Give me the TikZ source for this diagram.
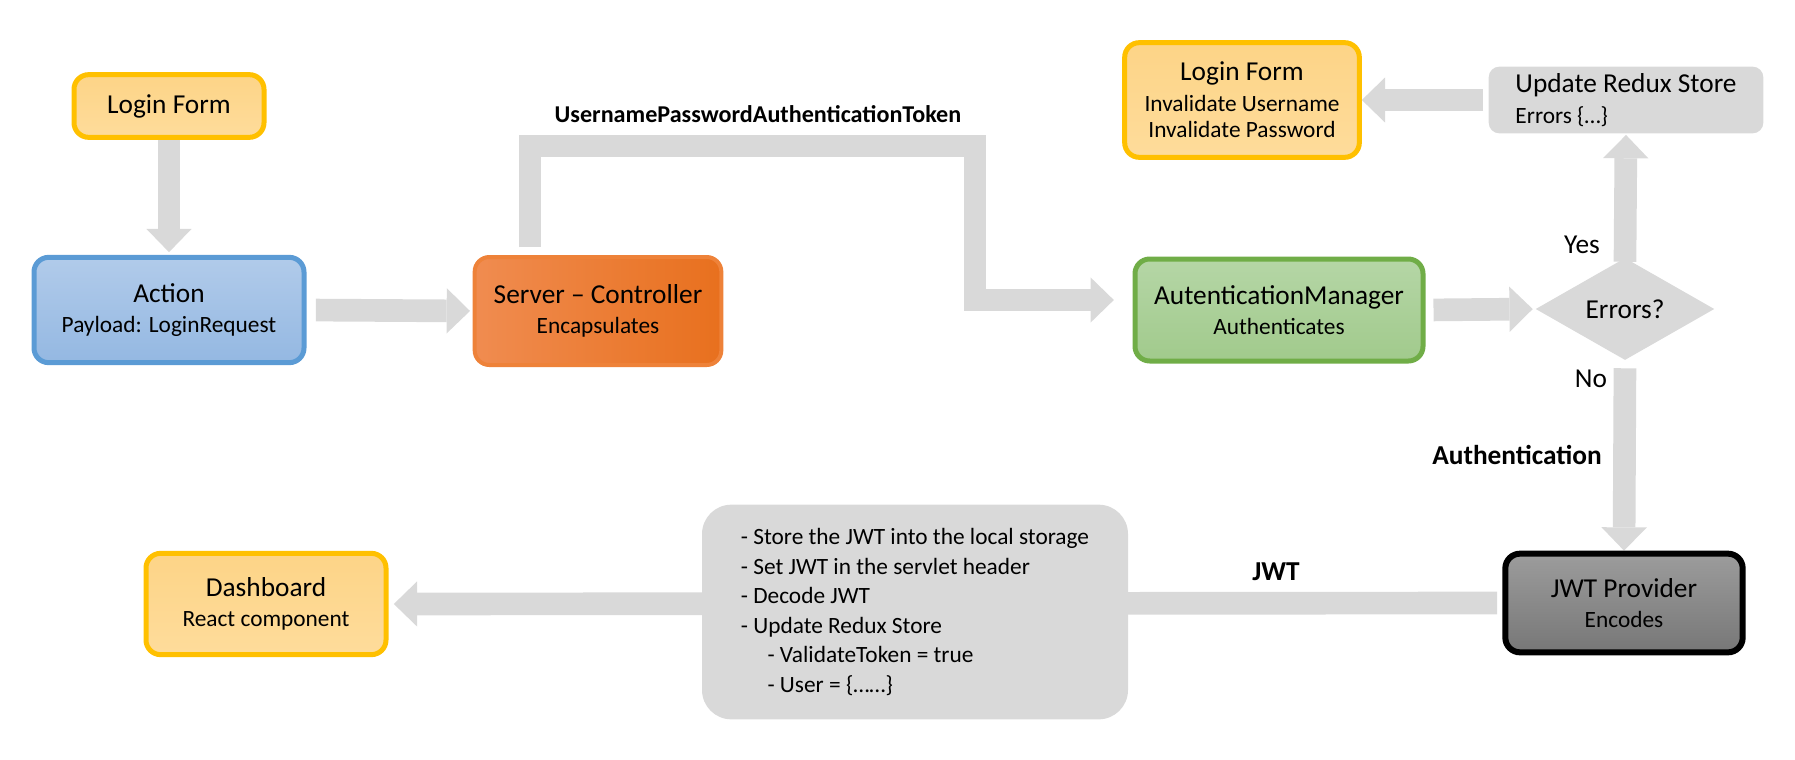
\documentclass[tikz,border=0pt]{standalone}
\usepackage{fontspec}
\setmainfont{Carlito}
\usetikzlibrary{arrows.meta,shapes.geometric,backgrounds}

\definecolor{ylwline}{HTML}{FFC000}
\definecolor{ylwtop}{HTML}{FDD487}
\definecolor{ylwbot}{HTML}{FEDC9B}
\definecolor{blueline}{HTML}{5B9BD5}
\definecolor{bluetop}{HTML}{B1CBEA}
\definecolor{bluebot}{HTML}{94B8E2}
\definecolor{srvline}{HTML}{EE8239}
\definecolor{srvleft}{HTML}{F08C50}
\definecolor{srvright}{HTML}{E8701E}
\definecolor{grnline}{HTML}{70AD47}
\definecolor{grntop}{HTML}{B5D6A6}
\definecolor{grnbot}{HTML}{A1CA8C}
\definecolor{jwttop}{HTML}{9C9C9C}
\definecolor{jwtbot}{HTML}{777777}
\definecolor{arrgray}{HTML}{D9D9D9}

\newcommand{\ttlfont}{\fontsize{20.5}{23}\selectfont}
\newcommand{\subfont}{\fontsize{17.5}{22.2}\selectfont}

\begin{document}
\begin{tikzpicture}[x=0.75pt,y=-0.75pt,>=Stealth,
    box/.style={rounded corners=11pt,line width=3.75pt,align=center,inner sep=0pt,font=\ttlfont},
    yellowbox/.style={box,draw=ylwline,top color=ylwtop,bottom color=ylwbot},
    flow/.style={draw=arrgray,line width=17pt,line join=miter,
        -{Triangle[length=17.5pt,width=34pt,line width=0pt]},shorten <=3pt,shorten >=2pt},
    lbl/.style={font=\bfseries\fontsize{20.5}{23}\selectfont,inner sep=0pt}]
    \useasboundingbox (0,0) rectangle (1795,760);

    \node[yellowbox,minimum width=142.5pt,minimum height=47pt] (login) at (169,106) {Login Form};
    \node[box,draw=blueline,top color=bluetop,bottom color=bluebot,
        minimum width=202.5pt,minimum height=79pt] (action) at (169,310)
        {Action\\{\subfont Payload: LoginRequest}};
    \node[box,draw=srvline,left color=srvleft,right color=srvright,line width=3pt,
        minimum width=185pt,minimum height=81pt] (server) at (598,311)
        {Server -- Controller\\{\subfont Encapsulates}};
    \node[box,draw=grnline,top color=grntop,bottom color=grnbot,
        minimum width=216pt,minimum height=76.5pt] (authmgr) at (1279,310)
        {AutenticationManager\\{\subfont Authenticates}};
    \node[diamond,fill=arrgray,minimum width=134pt,minimum height=76.5pt,
        inner sep=0pt,font=\ttlfont] (errors) at (1625,309) {Errors?};
    \node[fill=arrgray,rounded corners=8pt,minimum width=206pt,minimum height=50pt,
        align=left,inner sep=0pt,font=\ttlfont] (update) at (1626,100)
        {Update Redux Store\\{\subfont Errors \{…\}}};
    \node[yellowbox,minimum width=176pt,minimum height=86pt] (loginerr) at (1242,100)
        {Login Form\\{\subfont Invalidate Username}\\[-3pt]{\subfont Invalidate Password}};
    \node[box,draw=black,top color=jwttop,bottom color=jwtbot,line width=4.5pt,
        minimum width=178pt,minimum height=74pt] (jwtprov) at (1624,603)
        {JWT Provider\\{\subfont Encodes}};
    \node[fill=arrgray,rounded corners=22pt,minimum width=319.5pt,
        minimum height=161pt,align=left,font=\subfont] (store) at (915,612)
        {- Store the JWT into the local storage\\
         - Set JWT in the servlet header\\
         - Decode JWT\\
         - Update Redux Store\\
         \hspace*{20pt}- ValidateToken = true\\
         \hspace*{20pt}- User = \{……\}};
    \node[yellowbox,minimum width=180pt,minimum height=76pt] (dash) at (266,604)
        {Dashboard\\{\subfont React component}};

    \node[lbl,font=\bfseries\fontsize{18.1}{22}\selectfont] (toklbl) at (758,114)
        {UsernamePasswordAuthenticationToken};
    \node[font=\ttlfont,inner sep=0pt] (yes) at (1582,245) {Yes};
    \node[font=\ttlfont,inner sep=0pt] (no) at (1591,379) {No};
    \node[lbl] (authlbl) at (1517,455) {Authentication};
    \node[lbl] (jwtlbl) at (1276,572) {JWT};

    \coordinate (tokup) at (530,146);
    \coordinate (tokdn) at (975,146);

    \begin{scope}[on background layer]
        \draw[flow,shorten <=0pt] (login) -- (action);
        \draw[flow,shorten <=7pt] (action.east) -- (server.west);
        \draw[flow,shorten <=6pt,shorten >=14pt] (server.north -| tokup) -- (tokup) -- (tokdn)
            |- ([yshift=7.5pt]authmgr.west);
        \draw[flow,shorten <=6pt] (authmgr.east) -- (errors.west);
        \draw[flow,shorten <=-3pt,shorten >=1pt] (errors.north) -- (update.south);
        \draw[flow,shorten <=4pt,shorten >=0pt] (update.west) -- (loginerr.east);
        \draw[flow,shorten <=6pt,shorten >=0pt] (errors.south) -- (jwtprov.north);
        \draw[flow,shorten <=4pt,shorten >=4pt] (jwtprov.west) -- (dash.east);
    \end{scope}
\end{tikzpicture}
\end{document}
